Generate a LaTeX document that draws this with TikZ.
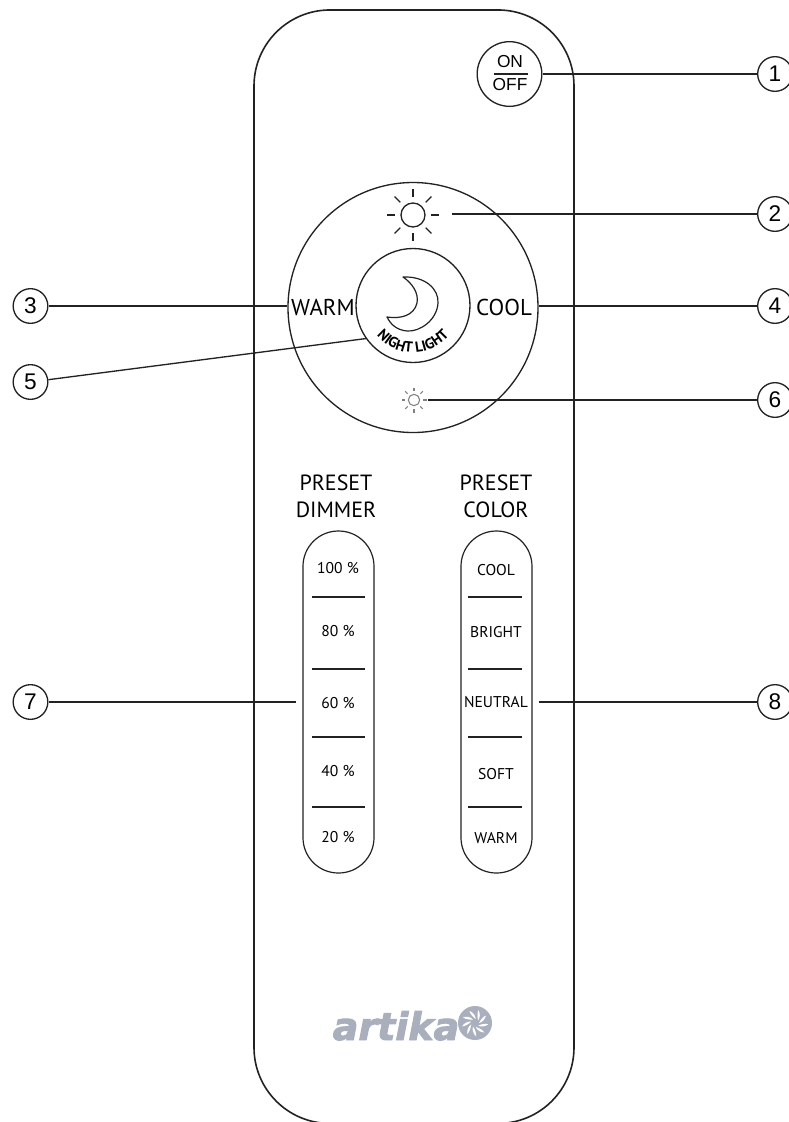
\documentclass[tikz,border=0pt]{standalone}
\usepackage{fontspec}
\setmainfont{PT Sans}
\newfontfamily\logofont[BoldItalicFeatures={FakeBold=2.5}]{DejaVu Sans}
\newfontfamily\numfont{Liberation Sans}
\usetikzlibrary{positioning}
\usetikzlibrary{decorations.text}
\definecolor{logogray}{HTML}{A9AFBD}
\definecolor{inkgray}{HTML}{222222}
\tikzset{
  callout/.style={circle,draw=inkgray,line width=1pt,minimum size=26pt,inner sep=0pt,font=\numfont\fontsize{17}{17}\selectfont},
  leader/.style={draw=inkgray,line width=1pt},
  ring/.style={circle,draw=inkgray,line width=1pt,inner sep=0pt},
  pill/.style={rectangle,draw=inkgray,line width=0.9pt,minimum width=53.25pt,minimum height=256.5pt,rounded corners=26.5pt},
  bar/.style={draw=inkgray,line width=1pt},
  keytext/.style={inner sep=0pt,font=\fontsize{11.7}{11.7}\selectfont},
  headtext/.style={inner sep=0pt,align=center,font=\fontsize{16.5}{20}\selectfont},
  ontext/.style={inner sep=0pt,font=\numfont\fontsize{13}{13}\selectfont}
}
\begin{document}
\begin{tikzpicture}[x=0.75pt,y=-0.75pt,line cap=butt]
\useasboundingbox (0,0) rectangle (789,1122);
\node[rectangle,draw=inkgray,line width=1.2pt,minimum width=240pt,minimum height=835.1pt,rounded corners=57pt] (body) at (414,566.7) {};
% buttons
\node[ring,minimum size=48.5pt] (onoff) at (509.5,74) {};
\node[ontext] (ontxt) at (510,62) {ON};
\node[ontext] (offtxt) at (510,85) {OFF};
\draw[leader] (494,74) -- (528,74);
\node[ring,minimum size=187.5pt] (dial) at (413,307.5) {};
\node[ring,minimum size=85.5pt,fill=white] (night) at (413,305.5) {};
\node[inner sep=0pt,font=\fontsize{17.2}{17.2}\selectfont] (warm) at (323,307) {WARM};
\node[inner sep=0pt,font=\fontsize{17.2}{17.2}\selectfont] (cool) at (504,307) {COOL};
% moon
\draw[inkgray,line width=0.9pt,line join=round] (403,277) .. controls (425,276) and (439,289) .. (438,303)
  .. controls (437,320) and (420,332) .. (407,331) .. controls (397,330) and (391,325) .. (387,317)
  .. controls (400,319) and (414,316) .. (417,303) .. controls (419,293) and (412,283) .. (403,277) -- cycle;
\path[decorate,decoration={text along path,text align=center,
  text={|\bfseries\fontsize{11}{11}\selectfont|NIGHT LIGHT}}] (413,305.5) ++(150:47) arc (150:30:47);
% suns
\node[ring,minimum size=18pt] (bigsun) at (413,215) {};
\foreach \a in {0,45,...,315}
  \draw[inkgray,line width=1pt] (bigsun.center) ++(\a:18) -- ++(\a:8);
\node[ring,minimum size=8.5pt,draw=gray,line width=0.8pt] (smallsun) at (414,400) {};
\foreach \a in {0,45,...,315}
  \draw[gray,line width=0.8pt] (smallsun.center) ++(\a:9) -- ++(\a:3.5);
\coordinate (bigsunend) at (452,214);
\coordinate (smallsunend) at (428,400);
% presets
\node[headtext] (dimhead) at (336,496.5) {PRESET\\DIMMER};
\node[headtext] (colhead) at (496,496.5) {PRESET\\COLOR};
\node[pill] (dimpill) at (338.5,702) {};
\node[pill] (colpill) at (496.5,702) {};
\foreach \n/\yy in {1/597,2/669,3/737,4/807}{
  \coordinate (dl\n) at (312,\yy);
  \coordinate (dr\n) at (365,\yy);
  \draw[bar] (dl\n) -- (dr\n);
  \coordinate (cl\n) at (468,\yy);
  \coordinate (cr\n) at (522,\yy);
  \draw[bar] (cl\n) -- (cr\n);
}
\foreach \n/\t/\yy in {a/100 \%/568,b/80 \%/631,c/60 \%/703,d/40 \%/771,e/20 \%/837}
  \node[keytext] (dim\n) at (338,\yy) {\t};
\foreach \n/\t/\yy in {a/COOL/570,b/BRIGHT/632,c/NEUTRAL/702,d/SOFT/774,e/WARM/838}
  \node[keytext] (col\n) at (496,\yy) {\t};
% logo
\node[inner sep=0pt,anchor=base,text=logogray,font=\logofont\bfseries\itshape\fontsize{28.5}{28.5}\selectfont] (logo) at (396,1040) {artika};
\node[circle,fill=logogray,minimum size=25.5pt,inner sep=0pt] (fan) at (475,1023) {};
\foreach \a in {0,40,...,320}
  \fill[white,rotate around={\a:(fan.center)}] (479,1023) .. controls (481,1019) and (484,1016) .. (486,1015.5) .. controls (485,1019) and (483,1022) .. (479,1023) -- cycle;
% callouts
\node[callout] (num1) at (775,74) {1};
\node[callout] (num2) at (775,214) {2};
\node[callout] (num3) at (30.5,306) {3};
\node[callout] (num4) at (775,306) {4};
\node[callout] (num5) at (30.5,382) {5};
\node[callout] (num6) at (775,400) {6};
\node[callout] (num7) at (30.5,702) {7};
\node[callout] (num8) at (775,702) {8};
\draw[leader] (onoff.east) -- (num1);
\draw[leader] (bigsunend) -- (num2);
\draw[leader] (num3) -- (num3 -| dial.west);
\draw[leader] (num4 -| dial.east) -- (num4);
\draw[leader] (num5) -- (night.215);
\draw[leader] (smallsunend) -- (num6);
\draw[leader] (num7) -- (296,702);
\draw[leader] (539,702) -- (num8);
\end{tikzpicture}
\end{document}
